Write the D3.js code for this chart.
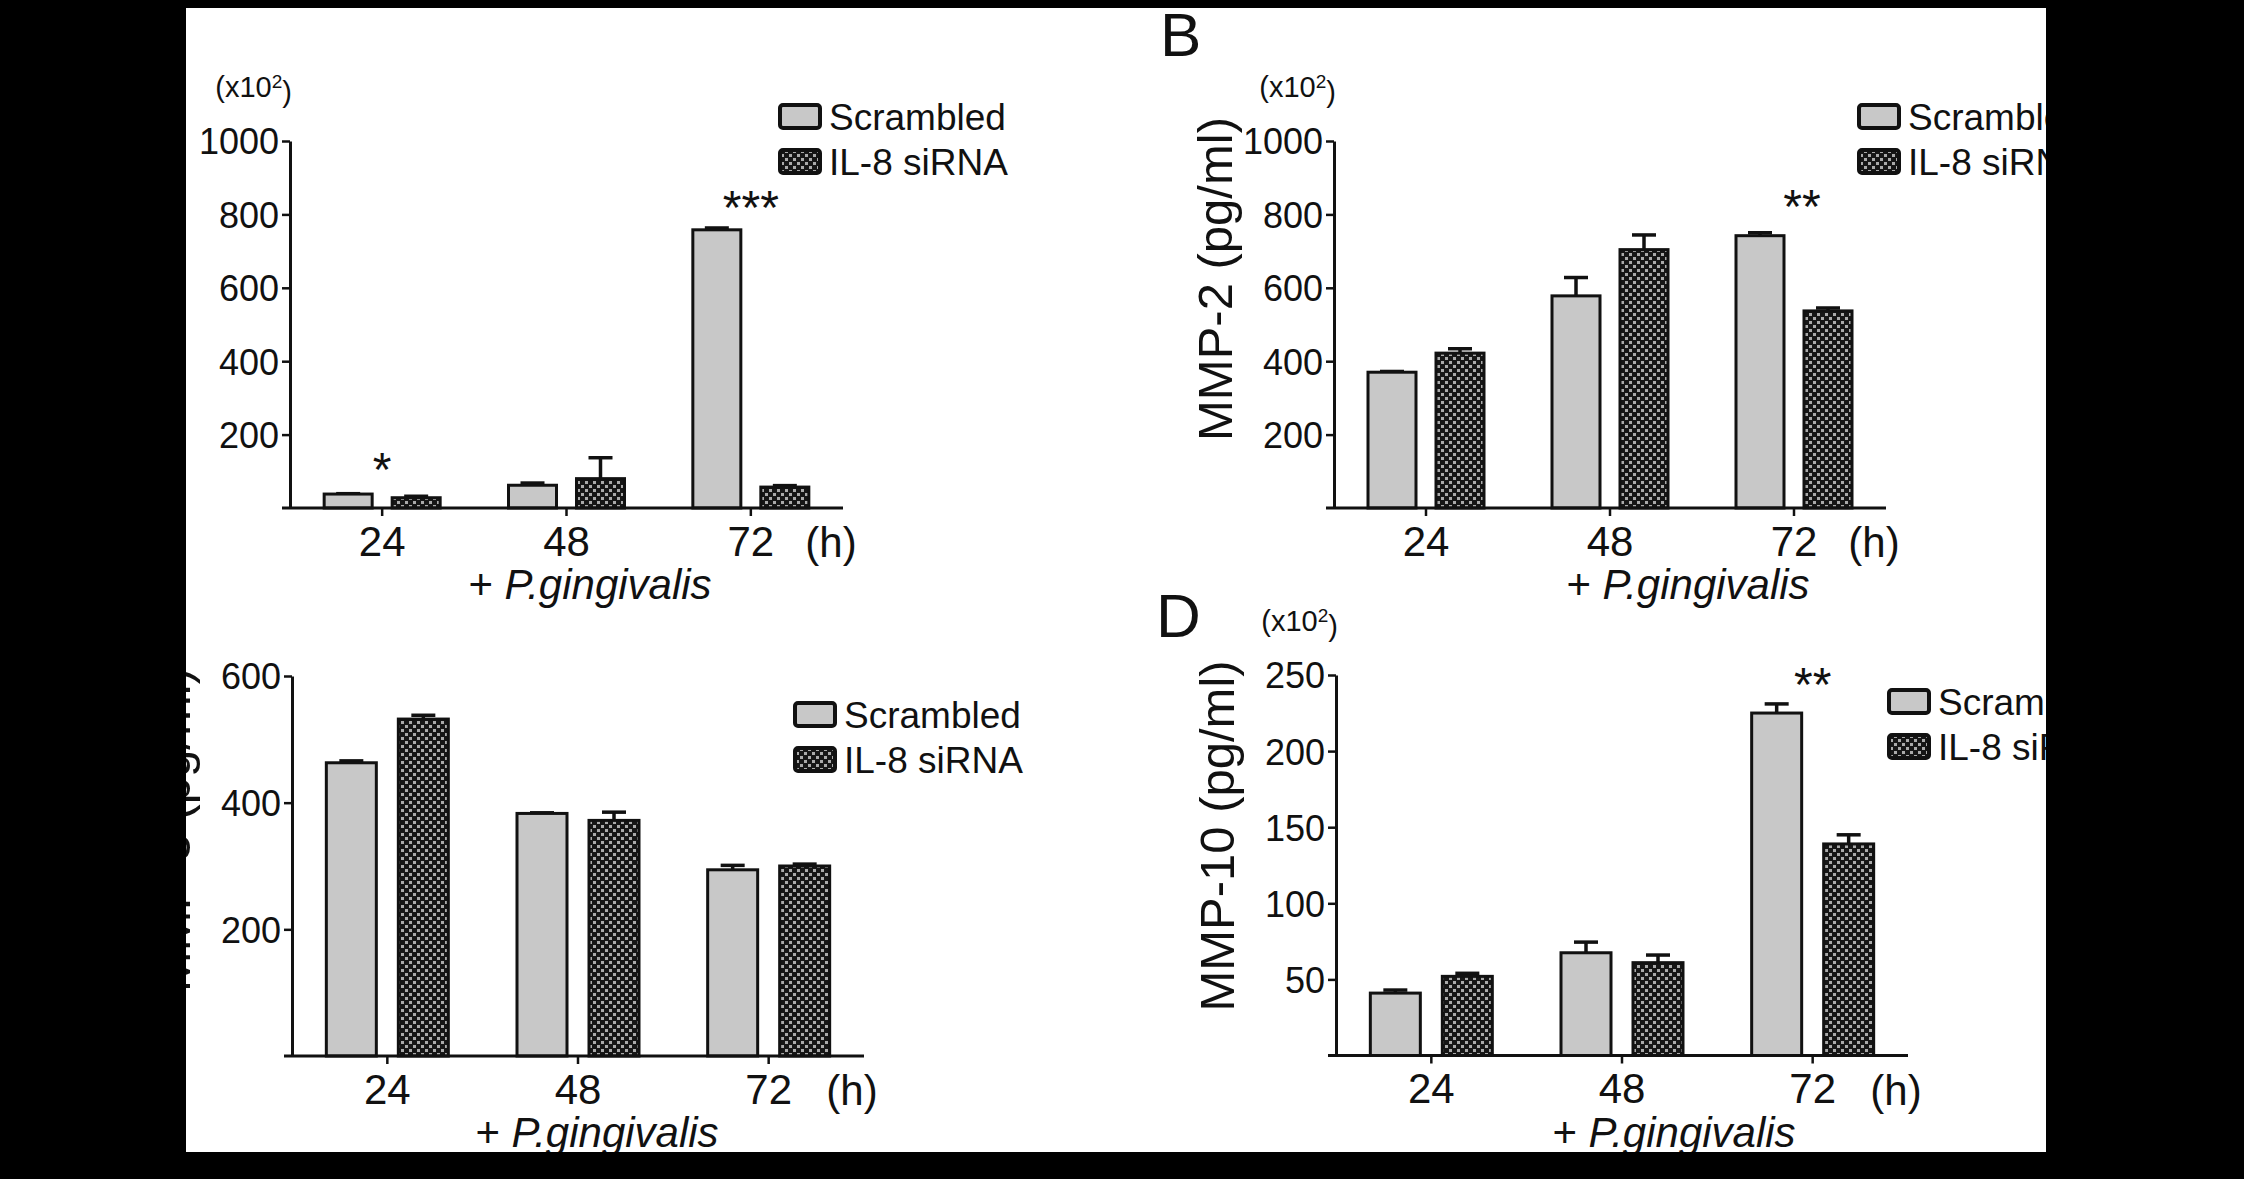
<!DOCTYPE html>
<html>
<head>
<meta charset="utf-8">
<script src="https://cdn.jsdelivr.net/npm/d3@7"></script>
<style>
  html, body { margin: 0; padding: 0; background: #000; }
  svg { display: block; }
</style>
</head>
<body>
<div id="chart"></div>
<script>
// DATA
var groups = ["24", "48", "72"];
var seriesNames = ["Scrambled", "IL-8 siRNA"];

// panel A (x10^2 pg/ml)
var mmp1Scrambled = [38, 62, 758];
var mmp1ScrambledErr = [1, 6, 5];
var mmp1Sirna = [28, 80, 57];
var mmp1SirnaErr = [4, 57, 4];
var ticksA = [200, 400, 600, 800, 1000];

// panel B
var mmp2Scrambled = [370, 578, 742];
var mmp2ScrambledErr = [2, 50, 8];
var mmp2Sirna = [422, 704, 537];
var mmp2SirnaErr = [12, 40, 8];
var ticksB = [200, 400, 600, 800, 1000];

// panel C
var mmp3Scrambled = [463, 383, 294];
var mmp3ScrambledErr = [3, 1, 7];
var mmp3Sirna = [532, 372, 300];
var mmp3SirnaErr = [6, 13, 3];
var ticksC = [200, 400, 600];

// panel D
var mmp10Scrambled = [41, 67.5, 225];
var mmp10ScrambledErr = [2, 7, 6];
var mmp10Sirna = [52, 61, 139];
var mmp10SirnaErr = [2, 5, 6];
var ticksD = [50, 100, 150, 200, 250];

// significance marks: [group, text, height in axis units]
var starsA = [["24", "*", 130], ["72", "***", 845]];
var starsB = [["72", "**", 848]];
var starsC = [];
var starsD = [["72", "**", 250]];

// HELPERS
var FONT = "'Liberation Sans', Arial, Helvetica, sans-serif";
var INK = "#111";

var svg = d3.select("#chart")
    .append("svg")
    .attr("width", 2244)
    .attr("height", 1179);

var defs = svg.append("defs");
defs.append("clipPath")
    .attr("id", "page")
    .append("rect")
    .attr("x", 186).attr("y", 8)
    .attr("width", 1860).attr("height", 1144);

var pat = defs.append("pattern")
    .attr("id", "checker")
    .attr("patternUnits", "userSpaceOnUse")
    .attr("width", 8).attr("height", 8);
pat.append("rect").attr("width", 8).attr("height", 8).attr("fill", "#161616");
pat.append("rect").attr("x", 1).attr("y", 1).attr("width", 3).attr("height", 3).attr("fill", "#aaaaaa");
pat.append("rect").attr("x", 5).attr("y", 5).attr("width", 3).attr("height", 3).attr("fill", "#aaaaaa");

svg.append("rect")
    .attr("width", 2244).attr("height", 1179)
    .attr("fill", "#000");
svg.append("rect")
    .attr("x", 186).attr("y", 8)
    .attr("width", 1860).attr("height", 1144)
    .attr("fill", "#fff");

var root = svg.append("g").attr("clip-path", "url(#page)");

function drawPanel(p) {
    var g = root.append("g");

    var x0 = d3.scaleBand()
        .domain(groups)
        .range([p.left, p.right]);

    var span = 2 * p.barW + p.barGap;
    var x1 = d3.scaleBand()
        .domain(seriesNames)
        .range([-span / 2, span / 2])
        .paddingInner(p.barGap / (p.barW + p.barGap));

    var y = d3.scaleLinear()
        .domain([0, p.max])
        .range([p.base, p.top]);

    function cx(grp) {
        return x0(grp) + x0.bandwidth() / 2;
    }

    var rows = [];
    groups.forEach(function (grp, i) {
        seriesNames.forEach(function (s, j) {
            rows.push({ g: grp, s: s, j: j, v: p.vals[j][i], e: p.errs[j][i] });
        });
    });

    // error bars (behind bars)
    var eb = g.append("g")
        .attr("stroke", INK)
        .attr("stroke-width", 3.5);
    rows.forEach(function (d) {
        var xc = cx(d.g) + x1(d.s) + x1.bandwidth() / 2;
        eb.append("line")
            .attr("x1", xc).attr("x2", xc)
            .attr("y1", y(d.v)).attr("y2", y(d.v + d.e));
        eb.append("line")
            .attr("x1", xc - 12).attr("x2", xc + 12)
            .attr("y1", y(d.v + d.e)).attr("y2", y(d.v + d.e));
    });

    // bars
    g.append("g")
        .selectAll("rect")
        .data(rows)
        .enter()
        .append("rect")
        .attr("x", d => cx(d.g) + x1(d.s))
        .attr("y", d => y(d.v))
        .attr("width", x1.bandwidth())
        .attr("height", d => p.base - y(d.v))
        .attr("fill", d => d.j === 0 ? "#c8c8c8" : "url(#checker)")
        .attr("stroke", INK)
        .attr("stroke-width", 3);

    // y axis
    var ya = g.append("g")
        .attr("transform", "translate(" + p.left + ",0)")
        .call(d3.axisLeft(y).tickValues(p.ticks).tickFormat(d3.format("d"))
            .tickSize(8).tickSizeOuter(0).tickPadding(3));
    ya.select(".domain").attr("stroke", INK).attr("stroke-width", 3);
    ya.selectAll(".tick line").attr("stroke", INK).attr("stroke-width", 2.5);
    ya.selectAll(".tick text")
        .attr("fill", INK)
        .style("font-family", FONT)
        .style("font-size", "36px")
        .attr("dy", "0.36em");

    // x axis
    var xa = g.append("g")
        .attr("transform", "translate(0," + p.base + ")")
        .call(d3.axisBottom(x0).tickSize(8).tickSizeOuter(0).tickPadding(10));
    xa.select(".domain").attr("stroke", INK).attr("stroke-width", 3)
        .attr("d", "M" + (p.left - 8) + ",0H" + p.right);
    xa.selectAll(".tick line").attr("stroke", INK).attr("stroke-width", 2.5);
    xa.selectAll(".tick text")
        .attr("fill", INK)
        .style("font-family", FONT)
        .style("font-size", "42px");

    g.append("text")
        .attr("x", p.right - 12)
        .attr("y", p.base + 49)
        .attr("text-anchor", "middle")
        .attr("fill", INK)
        .style("font-family", FONT)
        .style("font-size", "42px")
        .text("(h)");

    var xl = g.append("text")
        .attr("x", p.xLabelX)
        .attr("y", p.base + 91)
        .attr("text-anchor", "middle")
        .attr("fill", INK)
        .style("font-family", FONT)
        .style("font-size", "42px");
    xl.append("tspan").text("+ ");
    xl.append("tspan").style("font-style", "italic").text("P.gingivalis");

    // y label
    g.append("text")
        .attr("transform", "translate(" + (p.left - p.yLabelOff) + "," + p.yLabelY + ")rotate(-90)")
        .attr("text-anchor", "middle")
        .attr("fill", INK)
        .style("font-family", FONT)
        .style("font-size", "49px")
        .text(p.yLabel);

    if (p.scaleNote) {
        var sn = g.append("text")
            .attr("x", p.left + 2)
            .attr("y", p.top - 44)
            .attr("text-anchor", "end")
            .attr("fill", INK)
            .style("font-family", FONT)
            .style("font-size", "29px");
        sn.append("tspan").text("(x10");
        sn.append("tspan").attr("dy", "-0.45em").style("font-size", "19px").text("2");
        sn.append("tspan").attr("dy", "0.45em").text(")");
    }

    if (p.letter) {
        g.append("text")
            .attr("x", p.letterX)
            .attr("y", p.letterY)
            .attr("fill", INK)
            .style("font-family", FONT)
            .style("font-size", "62px")
            .text(p.letter);
    }

    // stars
    p.stars.forEach(function (s) {
        g.append("text")
            .attr("x", cx(s[0]) + p.starDx)
            .attr("y", y(s[2]) + 26)
            .attr("text-anchor", "middle")
            .attr("fill", INK)
            .style("font-family", FONT)
            .style("font-size", "48px")
            .text(s[1]);
    });

    // legend
    var lg = g.append("g")
        .attr("transform", "translate(" + p.legX + "," + p.legY + ")");
    seriesNames.forEach(function (s, j) {
        lg.append("rect")
            .attr("x", 0).attr("y", j * 45)
            .attr("width", 40).attr("height", 23)
            .attr("rx", 3)
            .attr("fill", j === 0 ? "#c8c8c8" : "url(#checker)")
            .attr("stroke", INK)
            .attr("stroke-width", 4);
        lg.append("text")
            .attr("x", 49).attr("y", j * 45 + 12)
            .attr("dy", "0.36em")
            .attr("fill", INK)
            .style("font-family", FONT)
            .style("font-size", "37px")
            .text(s);
    });
}

drawPanel({
    left: 290, right: 843, top: 141, base: 508, max: 1000,
    barW: 48, barGap: 20,
    vals: [mmp1Scrambled, mmp1Sirna], errs: [mmp1ScrambledErr, mmp1SirnaErr],
    ticks: ticksA, stars: starsA, starDx: 0,
    yLabel: "MMP-1 (pg/ml)", yLabelY: 279, yLabelOff: 114, scaleNote: true,
    xLabelX: 590, legX: 780, legY: 105
});

drawPanel({
    left: 1334, right: 1886, top: 141, base: 508, max: 1000,
    barW: 48, barGap: 20,
    vals: [mmp2Scrambled, mmp2Sirna], errs: [mmp2ScrambledErr, mmp2SirnaErr],
    ticks: ticksB, stars: starsB, starDx: 8,
    yLabel: "MMP-2 (pg/ml)", yLabelY: 279, yLabelOff: 102, scaleNote: true,
    letter: "B", letterX: 1160, letterY: 56,
    xLabelX: 1688, legX: 1859, legY: 105
});

drawPanel({
    left: 292, right: 864, top: 676, base: 1056, max: 600,
    barW: 50, barGap: 22,
    vals: [mmp3Scrambled, mmp3Sirna], errs: [mmp3ScrambledErr, mmp3SirnaErr],
    ticks: ticksC, stars: starsC, starDx: 0,
    yLabel: "MMP-3 (pg/ml)", yLabelY: 830, yLabelOff: 102, scaleNote: false,
    xLabelX: 597, legX: 795, legY: 703
});

drawPanel({
    left: 1336, right: 1908, top: 675, base: 1055.5, max: 250,
    barW: 50, barGap: 22,
    vals: [mmp10Scrambled, mmp10Sirna], errs: [mmp10ScrambledErr, mmp10SirnaErr],
    ticks: ticksD, stars: starsD, starDx: 0,
    yLabel: "MMP-10 (pg/ml)", yLabelY: 836, yLabelOff: 102, scaleNote: true,
    letter: "D", letterX: 1156, letterY: 637,
    xLabelX: 1674, legX: 1889, legY: 690
});
</script>
</body>
</html>
